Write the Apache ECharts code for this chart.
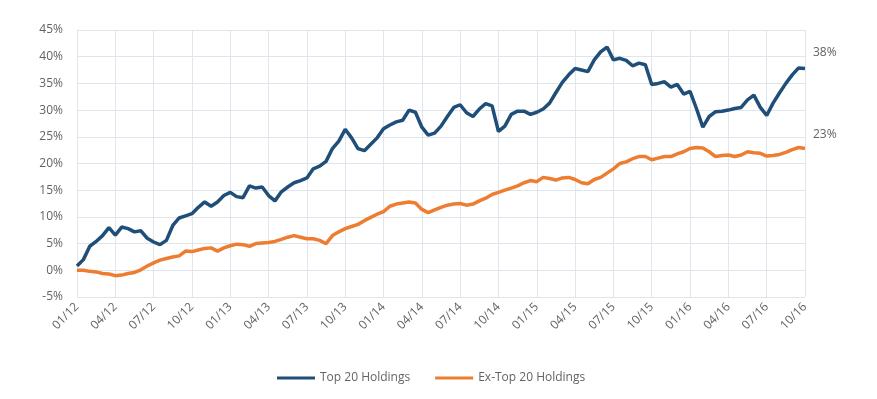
<!DOCTYPE html>
<html>
<head>
<meta charset="utf-8">
<script src="https://cdn.jsdelivr.net/npm/echarts@6/dist/echarts.min.js"></script>
<style>
  html, body { margin: 0; padding: 0; background: #fff; }
  #main { width: 877px; height: 399px; }
</style>
</head>
<body>
<div id="main"></div>
<script>
// half-month samples, Jan 2012 -> Oct 2016
var tickLabels = ['01/12','04/12','07/12','10/12','01/13','04/13','07/13','10/13','01/14','04/14',
  '07/14','10/14','01/15','04/15','07/15','10/15','01/16','04/16','07/16','10/16'];

var top20 = [
  0.8, 2.0, 4.5, 5.4, 6.5, 8.0, 6.6, 8.1, 7.8, 7.2, 7.4, 6.0,
  5.3, 4.8, 5.6, 8.4, 9.8, 10.2, 10.6, 11.8, 12.8, 12.0, 12.8, 14.0,
  14.6, 13.8, 13.6, 15.8, 15.4, 15.6, 14.0, 13.0, 14.7, 15.6, 16.4, 16.8,
  17.3, 19.0, 19.5, 20.4, 22.8, 24.2, 26.4, 24.8, 22.8, 22.4, 23.6, 24.8,
  26.5, 27.2, 27.8, 28.1, 30.0, 29.6, 26.8, 25.3, 25.7, 27.0, 28.8, 30.5,
  31.0, 29.5, 28.8, 30.2, 31.2, 30.8, 26.0, 27.0, 29.2, 29.8, 29.8, 29.2,
  29.6, 30.2, 31.3, 33.3, 35.2, 36.6, 37.8, 37.5, 37.2, 39.4, 40.9, 41.8,
  39.4, 39.7, 39.3, 38.3, 38.8, 38.5, 34.8, 35.0, 35.3, 34.3, 34.8, 33.0,
  33.5, 30.3, 26.8, 28.8, 29.7, 29.8, 30.0, 30.3, 30.5, 31.9, 32.8, 30.5,
  29.0, 31.3, 33.2, 35.0, 36.6, 37.9, 37.8
];

var exTop20 = [
  0.0, 0.0, -0.2, -0.3, -0.6, -0.7, -1.0, -0.9, -0.6, -0.4, 0.1, 0.8,
  1.4, 1.9, 2.2, 2.5, 2.7, 3.6, 3.5, 3.8, 4.1, 4.2, 3.6, 4.2,
  4.6, 4.9, 4.8, 4.5, 5.0, 5.1, 5.2, 5.4, 5.8, 6.2, 6.5, 6.2,
  5.9, 5.9, 5.6, 5.0, 6.5, 7.2, 7.8, 8.2, 8.6, 9.3, 9.9, 10.5,
  11.0, 12.0, 12.4, 12.6, 12.8, 12.6, 11.4, 10.8, 11.3, 11.8, 12.2, 12.4,
  12.5, 12.2, 12.4, 13.0, 13.5, 14.2, 14.6, 15.0, 15.4, 15.8, 16.4, 16.8,
  16.6, 17.4, 17.2, 16.9, 17.3, 17.4, 17.0, 16.4, 16.2, 17.0, 17.4, 18.2,
  19.0, 20.0, 20.3, 20.9, 21.3, 21.3, 20.7, 21.0, 21.3, 21.3, 21.8, 22.2,
  22.8, 23.0, 22.9, 22.2, 21.3, 21.5, 21.6, 21.3, 21.6, 22.2, 22.0, 21.9,
  21.4, 21.5, 21.7, 22.1, 22.6, 23.0, 22.8
];

// category keys, one per half-month
var dates = [];
for (var i = 0; i < top20.length; i++) {
  var m = Math.floor(i / 2);
  var y = 2012 + Math.floor(m / 12);
  var mm = (m % 12) + 1;
  dates.push(y + '-' + (mm < 10 ? '0' + mm : mm) + (i % 2 ? '-16' : '-01'));
}

var grey = '#636363';
var gridColor = '#dfe5ec';
var font = 'Open Sans';

var myChart = echarts.init(document.getElementById('main'));
myChart.setOption({
  animation: false,
  textStyle: { fontFamily: font },
  grid: { left: 77, right: 72, top: 30, bottom: 102 },
  legend: {
    bottom: 10,
    left: 272,
    icon: 'rect',
    itemWidth: 38,
    itemHeight: 3,
    itemGap: 25,
    textStyle: { color: grey, fontSize: 12, fontFamily: font },
    data: ['Top 20 Holdings', 'Ex-Top 20 Holdings']
  },
  xAxis: {
    type: 'category',
    boundaryGap: false,
    data: dates,
    axisLine: { lineStyle: { color: gridColor } },
    axisTick: { show: true, interval: 5, length: 4, lineStyle: { color: gridColor } },
    splitLine: { show: true, interval: 5, lineStyle: { color: gridColor } },
    axisLabel: {
      interval: 5,
      rotate: 45,
      color: grey,
      fontSize: 12,
      margin: 8,
      formatter: function (v, idx) { return tickLabels[idx / 6] || ''; }
    }
  },
  yAxis: {
    type: 'value',
    min: -5,
    max: 45,
    interval: 5,
    axisLine: { show: false },
    axisTick: { show: false },
    splitLine: { lineStyle: { color: gridColor } },
    axisLabel: { color: grey, fontSize: 12, margin: 14, formatter: '{value}%' }
  },
  series: [{
    name: 'Top 20 Holdings',
    type: 'line',
    data: top20,
    showSymbol: false,
    symbol: 'none',
    color: '#1f4e79',
    lineStyle: { width: 3.5, color: '#1f4e79' },
    endLabel: {
      show: true,
      color: grey,
      fontSize: 12,
      offset: [0, -16],
      formatter: function (p) { return Math.round(p.value) + '%'; }
    }
  }, {
    name: 'Ex-Top 20 Holdings',
    type: 'line',
    data: exTop20,
    showSymbol: false,
    symbol: 'none',
    color: '#ed7d31',
    lineStyle: { width: 3.5, color: '#ed7d31' },
    endLabel: {
      show: true,
      color: grey,
      fontSize: 12,
      offset: [0, -14],
      formatter: function (p) { return Math.round(p.value) + '%'; }
    }
  }]
});
</script>
</body>
</html>
